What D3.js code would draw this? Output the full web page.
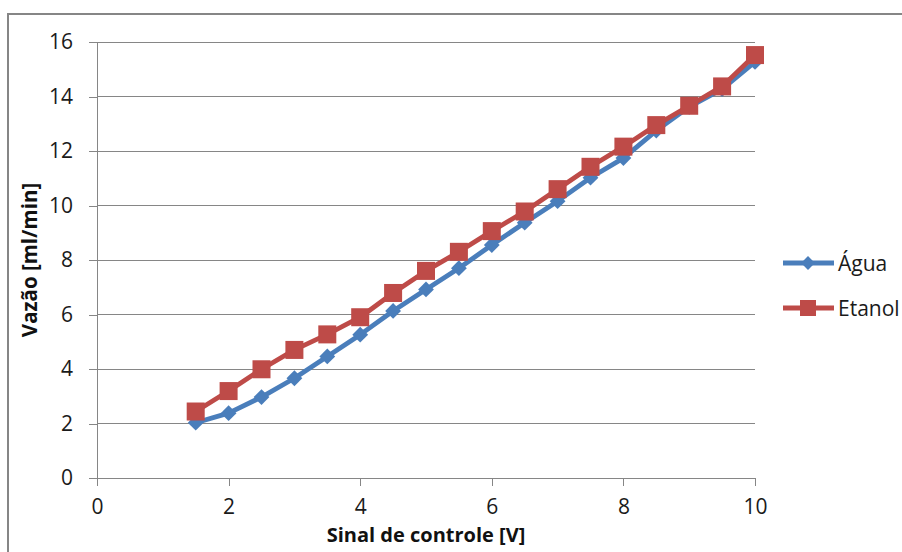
<!DOCTYPE html>
<html><head><meta charset="utf-8">
<script src="https://cdn.jsdelivr.net/npm/d3@7"></script>
<style>body{margin:0;background:#fff}svg{display:block}</style>
</head><body>
<script>
const xValues = [1.5,2,2.5,3,3.5,4,4.5,5,5.5,6,6.5,7,7.5,8,8.5,9,9.5,10];
const agua   = [2.03,2.38,2.97,3.66,4.46,5.26,6.13,6.92,7.7,8.55,9.37,10.16,11.02,11.74,12.75,13.62,14.27,15.27];
const etanol = [2.44,3.19,3.99,4.7,5.27,5.9,6.79,7.6,8.3,9.06,9.78,10.6,11.42,12.16,12.95,13.66,14.37,15.52];
const xTicks = [0,2,4,6,8,10];
const yTicks = [0,2,4,6,8,10,12,14,16];
const seriesNames = ["Água","Etanol"];
const seriesColors = ["#4A7EBB","#BE4B48"];

const W=902,H=552;
const svg=d3.select("body").append("svg").attr("width",W).attr("height",H);
const font="'Open Sans', sans-serif";

svg.append("rect").attr("x",8).attr("y",14).attr("width",W+10).attr("height",H+10)
  .attr("fill","none").attr("stroke","#868686").attr("stroke-width",2);

const x=d3.scaleLinear().domain([0,10]).range([97,755]);
const y=d3.scaleLinear().domain([0,16]).range([478,42]);

// gridlines
svg.append("g").selectAll("line").data(yTicks).join("line")
  .attr("x1",x(0)).attr("x2",x(10)).attr("y1",d=>y(d)).attr("y2",d=>y(d))
  .attr("stroke","#868686").attr("stroke-width",1).attr("shape-rendering","crispEdges");

const yAxis=svg.append("g").attr("transform",`translate(${x(0)},0)`)
  .call(d3.axisLeft(y).tickValues(yTicks).tickSize(8).tickSizeOuter(0).tickPadding(16));
const xAxis=svg.append("g").attr("transform",`translate(0,${y(0)})`)
  .call(d3.axisBottom(x).tickValues(xTicks).tickSize(8).tickSizeOuter(0).tickPadding(13));
[xAxis,yAxis].forEach(g=>{
  g.select(".domain").attr("stroke","#868686").attr("shape-rendering","crispEdges");
  g.selectAll(".tick line").attr("stroke","#868686").attr("shape-rendering","crispEdges");
  g.selectAll("text").attr("font-family",font).attr("font-size",21).attr("fill","#1a1a1a");
});
yAxis.select(".domain").attr("d",`M0,${y(16)}V${y(0)+8}`);

const data=[agua,etanol];
const line=d3.line().x((d,i)=>x(xValues[i])).y(d=>y(d));
data.forEach((s,k)=>{
  svg.append("path").datum(s).attr("d",line).attr("fill","none")
    .attr("stroke",seriesColors[k]).attr("stroke-width",4.8).attr("stroke-linejoin","round");
});
function drawMarkers(s,k){
  const g=svg.append("g");
  if(k===0){
    g.selectAll("path").data(s).join("path")
      .attr("d",d3.symbol().type(d3.symbolSquare).size(125))
      .attr("transform",(d,i)=>`translate(${x(xValues[i])},${y(d)}) rotate(45)`)
      .attr("fill",seriesColors[k]);
  } else {
    g.selectAll("rect").data(s).join("rect")
      .attr("x",(d,i)=>x(xValues[i])-9).attr("y",d=>y(d)-9)
      .attr("width",18).attr("height",18).attr("fill",seriesColors[k]);
  }
}
drawMarkers(agua,0);
drawMarkers(etanol,1);

// axis titles
svg.append("text").attr("x",(x(0)+x(10))/2).attr("y",542).attr("text-anchor","middle")
  .attr("font-family",font).attr("font-weight","bold").attr("font-size",20).attr("fill","#111")
  .text("Sinal de controle [V]");
svg.append("text").attr("transform",`translate(37,${(y(0)+y(16))/2}) rotate(-90)`)
  .attr("text-anchor","middle")
  .attr("font-family",font).attr("font-weight","bold").attr("font-size",20.5).attr("fill","#111")
  .text("Vazão [ml/min]");

// legend
const legY=[263,308];
seriesNames.forEach((n,k)=>{
  const g=svg.append("g");
  g.append("line").attr("x1",783).attr("x2",834).attr("y1",legY[k]).attr("y2",legY[k])
    .attr("stroke",seriesColors[k]).attr("stroke-width",4.8);
  if(k===0){
    g.append("path").attr("d",d3.symbol().type(d3.symbolSquare).size(95))
      .attr("transform",`translate(808,${legY[k]}) rotate(45)`).attr("fill",seriesColors[k]);
  } else {
    g.append("rect").attr("x",800).attr("y",legY[k]-8).attr("width",16).attr("height",16).attr("fill",seriesColors[k]);
  }
  g.append("text").attr("x",838).attr("y",legY[k]+8).attr("font-family",font).attr("font-size",21)
    .attr("fill","#1a1a1a").text(n);
});
</script>
</body></html>
